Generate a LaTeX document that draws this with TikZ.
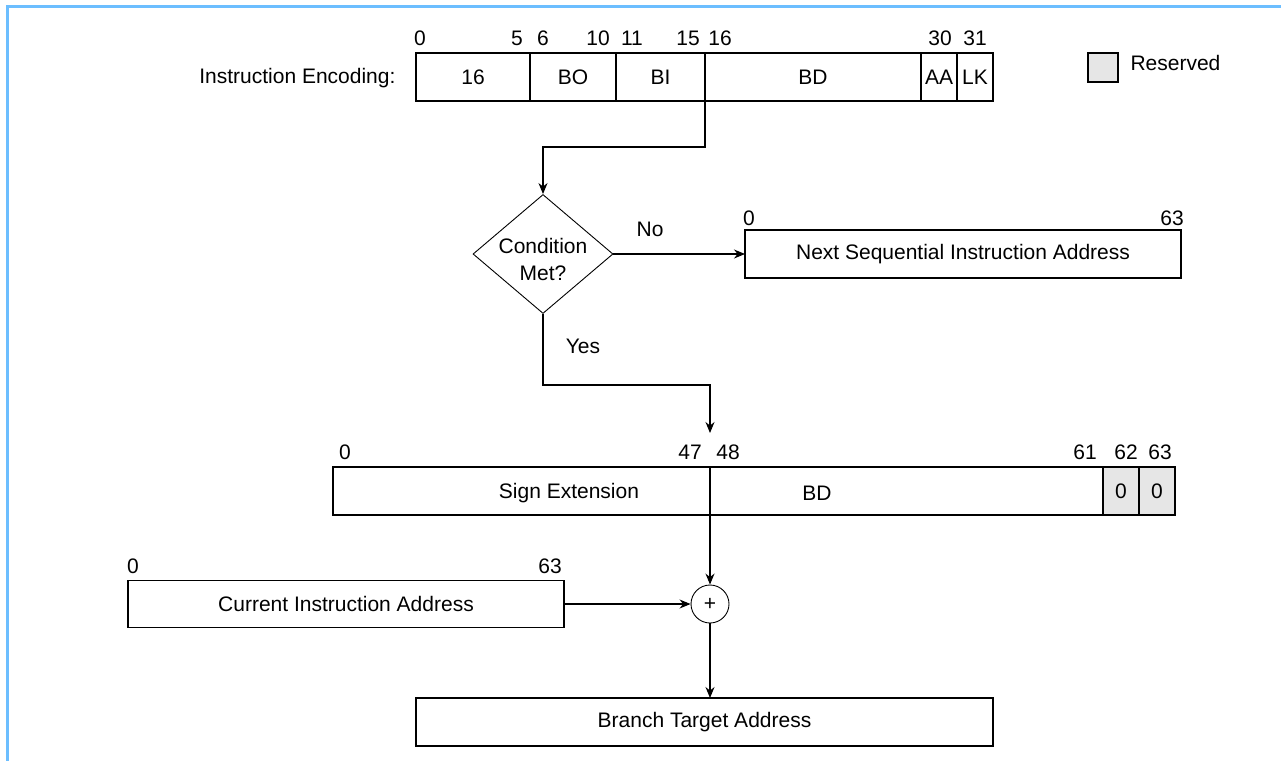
\documentclass[tikz,border=0pt]{standalone}
\usepackage{fontspec}
\setmainfont{Liberation Sans}
\usetikzlibrary{shapes.geometric,arrows.meta,calc}
\definecolor{framecol}{RGB}{108,190,255}
\definecolor{resfill}{RGB}{230,230,230}
\begin{document}
\begin{tikzpicture}[x=1pt,y=-1pt,
  every node/.style={font=\fontsize{21}{25}\selectfont},
  field/.style={draw,line width=1.1pt,inner sep=0pt,outer sep=0pt,minimum height=48pt},
  resfield/.style={field,fill=resfill},
  bitnum/.style={inner sep=0pt},
  arr/.style={line width=1.1pt,-{Stealth[length=11pt,width=9pt]}}]
\useasboundingbox (0,0) rectangle (1281,760);
% outer frame
\draw[framecol,line width=3pt] (7,775) -- (7,7) -- (1295,7);

% instruction encoding
\node[anchor=east] (enc) at (399,78) {Instruction Encoding:};
\node[field,minimum width=114pt] (f0) at (473,77) {16};
\node[field,minimum width=86pt]  (f1) at (573,77) {BO};
\node[field,minimum width=89pt]  (f2) at (660.5,77) {BI};
\node[field,minimum width=216pt] (f3) at (813,77) {BD};
\node[field,minimum width=36pt]  (f4) at (939,77) {AA};
\node[field,minimum width=36pt]  (f5) at (975,77) {LK};
\foreach \n/\x in {0/420,5/517,6/543,10/598,11/632,15/688,16/720,30/940,31/975}
  \node[bitnum] (eb\n) at (\x,38) {\n};

% legend
\node[resfield,minimum width=30pt,minimum height=29pt] (leg) at (1103,67.5) {};
\node[anchor=west] (legt) at (1127,63) {Reserved};

% condition test
\node[draw,line width=0.9pt,diamond,aspect=1.18,inner sep=0pt,minimum width=140pt,minimum height=119pt] (dia) at (543,254) {};
\node[align=center,inner sep=0pt] (diat) at (543,259) {Condition\\[2pt]Met?};
\draw[arr] (f3.south west) -- ++(0,46) -| (dia.north);

% next sequential address
\node[field,minimum width=436pt] (nsia) at (963,254) {Next Sequential Instruction Address};
\node[bitnum] (n0) at (749,218) {0};
\node[bitnum] (n63) at (1172,218) {63};
\draw[arr] (dia.east) -- (nsia.west);
\node (no) at (650,229) {No};

% sign-extended displacement
\node[field,minimum width=377pt] (s0) at (521.5,491) {};
\node[field,minimum width=393pt] (s1) at (906.5,491) {};
\node[resfield,minimum width=36pt] (s2) at (1121,491) {0};
\node[resfield,minimum width=36pt] (s3) at (1157,491) {0};
\node (sext) at (569,493) {Sign Extension};
\node (sbd) at (817,493) {BD};
\foreach \n/\x in {0/345,47/690,48/728,61/1085,62/1126,63/1160}
  \node[bitnum] (sb\n) at (\x,452) {\n};
\coordinate (sin) at (710,433);
\draw[arr] (dia.south) -- ++(0,71) -| (sin);
\node (yes) at (583,346) {Yes};

% adder
\node[draw,circle,line width=0.9pt,minimum size=38pt,inner sep=0pt] (sum) at (710,604) {+};
\draw[arr] (s1.south west) -- (sum.north);

% current instruction address
\node[field,minimum width=436pt,minimum height=47pt] (cia) at (346,604) {Current Instruction Address};
\node[bitnum] (c0) at (133,566) {0};
\node[bitnum] (c63) at (550,566) {63};
\draw[arr] (cia.east) -- (sum.west);

% branch target
\node[field,minimum width=577pt] (bta) at (704.5,722) {Branch Target Address};
\draw[arr] (sum.south) -- (sum.south |- bta.north);
\end{tikzpicture}
\end{document}
